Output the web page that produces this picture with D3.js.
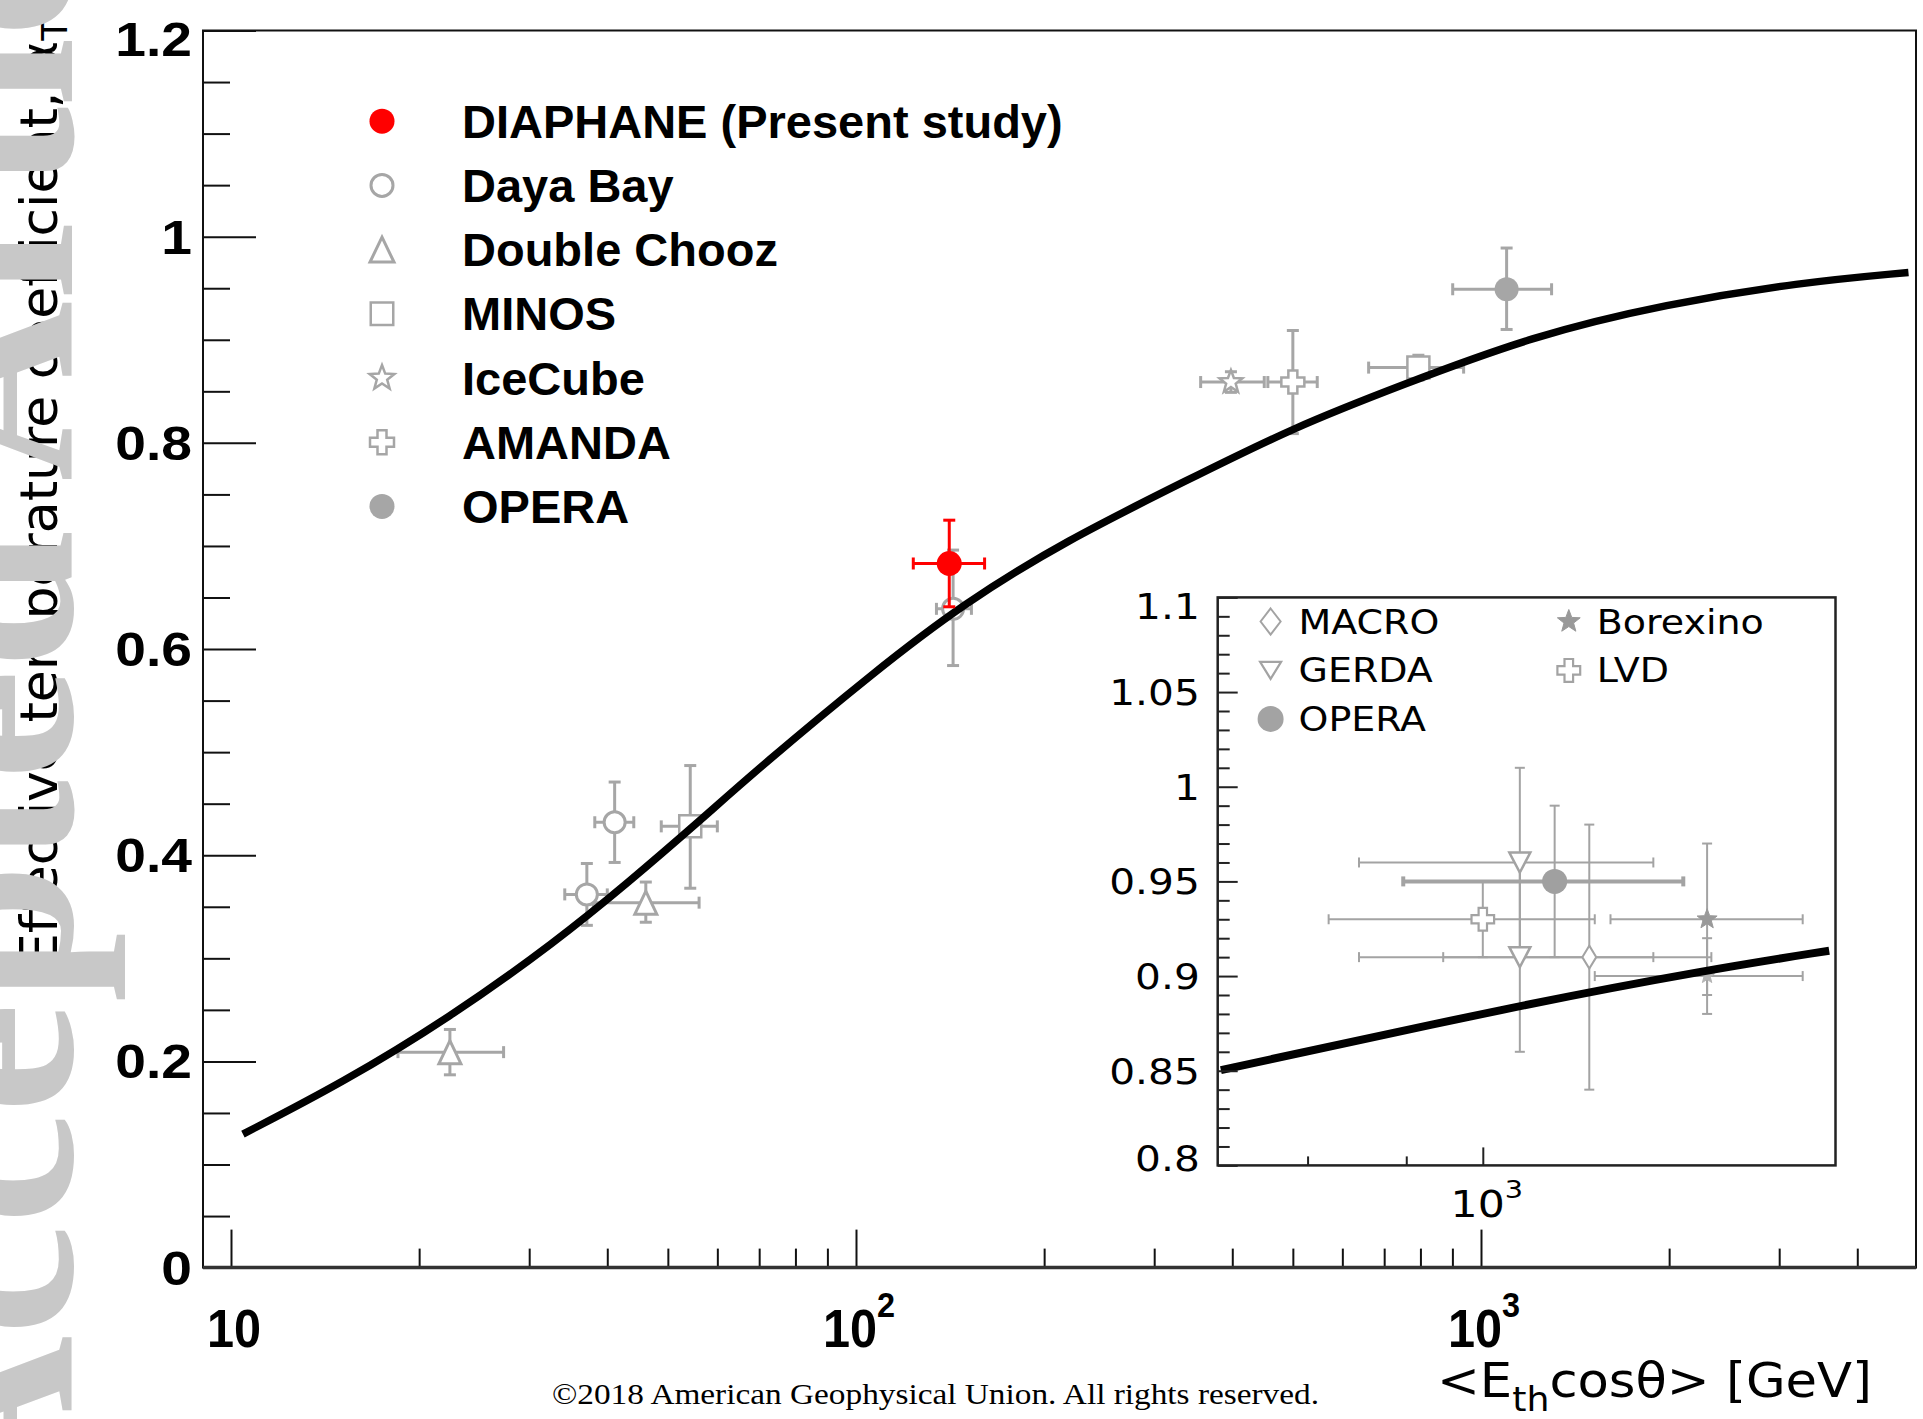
<!DOCTYPE html>
<html>
<head>
<meta charset="utf-8">
<script src="https://cdn.jsdelivr.net/npm/d3@7"></script>
<style>
html,body{margin:0;padding:0;background:#fff;}
svg{display:block;}
</style>
</head>
<body>
<svg id="chart" width="1923" height="1419"></svg>
<script>
// ================= DATA =================
// main axes
const mainXDomain = [9.02, 4966];
const mainYDomain = [0, 1.2];
const mainXMajor = [10, 100, 1000];
const mainXMajorExp = ["", "2", "3"];
const mainXMinor = [20,30,40,50,60,70,80,90,200,300,400,500,600,700,800,900,2000,3000,4000];
const mainYMajor = [0, 0.2, 0.4, 0.6, 0.8, 1, 1.2];
const mainYLabels = ["0", "0.2", "0.4", "0.6", "0.8", "1", "1.2"];
const mainYMinor = [0.05,0.1,0.15,0.25,0.3,0.35,0.45,0.5,0.55,0.65,0.7,0.75,0.85,0.9,0.95,1.05,1.1,1.15];

// theoretical curve
const curveE     = [10.45, 15.1, 22.4, 33.2, 43.3, 56.3, 70.2, 106.8, 148.4, 216.7, 337.8, 501.3, 742, 1213, 1982, 3238, 4830];
const curveAlpha = [0.1295, 0.1795, 0.2426, 0.3168, 0.374, 0.4337, 0.4855, 0.5776, 0.6439, 0.7052, 0.7634, 0.815, 0.8555, 0.904, 0.9347, 0.9556, 0.9653];

// points: [E, alpha, E_low, E_high, alpha_low, alpha_high]
const diaphanePts    = [[141, 0.683, 123.5, 160.6, 0.641, 0.725]];
const dayaBayPts     = [[41.1, 0.432, 38.2, 44.1, 0.393, 0.471], [37.1, 0.362, 34.2, 40.0, 0.332, 0.392], [143, 0.639, 134.5, 153, 0.584, 0.696]];
const doubleChoozPts = [[22.4, 0.209, 18.5, 27.3, 0.187, 0.231], [46.1, 0.354, 38.0, 56.1, 0.335, 0.374]];
const minosPts       = [[54.3, 0.428, 48.8, 60.0, 0.368, 0.487], [794, 0.873, 661, 938, 0.861, 0.885]];
const iceCubePts     = [[398, 0.859, 356, 450, 0.849, 0.869]];
const amandaPts      = [[500, 0.859, 456, 547, 0.809, 0.909]];
const operaPts       = [[1099, 0.949, 901, 1297, 0.910, 0.989]];

const legendNames   = ["DIAPHANE (Present study)", "Daya Bay", "Double Chooz", "MINOS", "IceCube", "AMANDA", "OPERA"];
const legendMarkers = ["dotRed", "circle", "triUp", "square", "starOpen", "plus", "dot"];

// inset
const insetXDomain = [461.7, 2796];
const insetYDomain = [0.8, 1.1];
const insetXMinor = [600, 800];
const insetXMajor = [1000];
const insetXMajorExp = ["3"];
const insetYMajor = [0.8, 0.85, 0.9, 0.95, 1, 1.05, 1.1];
const insetYLabels = ["0.8", "0.85", "0.9", "0.95", "1", "1.05", "1.1"];
const insetYMinor = [0.81,0.82,0.83,0.84,0.86,0.87,0.88,0.89,0.91,0.92,0.93,0.94,0.96,0.97,0.98,0.99,1.01,1.02,1.03,1.04,1.06,1.07,1.08,1.09];

const insetCurveE     = [466, 1114, 1923, 2745];
const insetCurveAlpha = [0.8503, 0.8847, 0.9032, 0.9134];

const macroPts    = [[1364, 0.91, 891, 1947, 0.84, 0.98]];
const gerdaPts    = [[1114, 0.96, 697, 1644, 0.91, 1.01], [1114, 0.91, 697, 1644, 0.86, 0.96]];
const operaInPts  = [[1233, 0.95, 793, 1794, 0.91, 0.99]];
const borexinoPts = [[1923, 0.93, 1451, 2541, 0.89, 0.97], [1923, 0.90, 1386, 2541, 0.88, 0.92]];
const lvdPts      = [[1000, 0.93, 638, 1386, 0.91, 0.95]];

const insetLegendNames   = ["MACRO", "GERDA", "OPERA", "Borexino", "LVD"];
const insetLegendMarkers = ["diamond", "triDown", "dot", "starFill", "plus"];

// ================= DRAWING =================
const GRAY = "#a6a6a6";
const svg = d3.select("#chart");
svg.append("rect").attr("width", 1923).attr("height", 1419).attr("fill", "#fff");

const P = {l: 203, r: 1916, t: 30.5, b: 1267.6};
const x = d3.scaleLog().domain(mainXDomain).range([P.l, P.r]);
const y = d3.scaleLinear().domain(mainYDomain).range([P.b, P.t]);

function ln(g, x1, y1, x2, y2, col, w) {
  g.append("line").attr("x1", x1).attr("y1", y1).attr("x2", x2).attr("y2", y2)
   .attr("stroke", col).attr("stroke-width", w);
}
function starPath(R, r) {
  const p = [];
  for (let i = 0; i < 10; i++) {
    const a = -Math.PI / 2 + i * Math.PI / 5;
    const rr = i % 2 ? r : R;
    p.push([rr * Math.cos(a), rr * Math.sin(a)]);
  }
  return "M" + p.map(d => d[0].toFixed(2) + "," + d[1].toFixed(2)).join("L") + "Z";
}
function plusPath(e, t) {
  return `M${-t},${-e}L${t},${-e}L${t},${-t}L${e},${-t}L${e},${t}L${t},${t}L${t},${e}L${-t},${e}L${-t},${t}L${-e},${t}L${-e},${-t}L${-t},${-t}Z`;
}
function drawMarker(g, type, cx, cy, s, col) {
  col = col || GRAY;
  const sw = s.sw || 3;
  if (type === "dotRed") {
    g.append("circle").attr("cx", cx).attr("cy", cy).attr("r", s.r).attr("fill", "#ff0000");
  } else if (type === "dot") {
    g.append("circle").attr("cx", cx).attr("cy", cy).attr("r", s.r).attr("fill", col);
  } else if (type === "circle") {
    g.append("circle").attr("cx", cx).attr("cy", cy).attr("r", s.r).attr("fill", "#fff").attr("stroke", col).attr("stroke-width", sw);
  } else {
    let d;
    if (type === "triUp") d = `M0,${-s.h/2}L${s.w/2},${s.h/2}L${-s.w/2},${s.h/2}Z`;
    else if (type === "triDown") d = `M0,${s.h/2}L${s.w/2},${-s.h/2}L${-s.w/2},${-s.h/2}Z`;
    else if (type === "square") d = `M${-s.w/2},${-s.w/2}h${s.w}v${s.w}h${-s.w}Z`;
    else if (type === "diamond") d = `M0,${-s.h/2}L${s.w/2},0L0,${s.h/2}L${-s.w/2},0Z`;
    else if (type === "starOpen" || type === "starFill") d = starPath(s.R, s.R * 0.42);
    else if (type === "plus") d = plusPath(s.e, s.t);
    const filled = type === "starFill";
    g.append("path").attr("d", d).attr("transform", `translate(${cx},${cy})`)
      .attr("fill", filled ? col : "#fff").attr("stroke", col).attr("stroke-width", filled ? 1 : sw)
      .attr("stroke-linejoin", "miter");
  }
}
function drawErrors(g, pts, xs, ys, col, ew, cap, ewx) {
  pts.forEach(p => {
    const [e, a, elo, ehi, alo, ahi] = p;
    const cx = xs(e), cy = ys(a), x0 = xs(elo), x1 = xs(ehi), y0 = ys(alo), y1 = ys(ahi);
    const wx = ewx || ew;
    ln(g, x0, cy, x1, cy, col, wx);
    ln(g, cx, y0, cx, y1, col, ew);
    ln(g, x0, cy - cap/2, x0, cy + cap/2, col, wx);
    ln(g, x1, cy - cap/2, x1, cy + cap/2, col, wx);
    ln(g, cx - cap/2, y0, cx + cap/2, y0, col, ew);
    ln(g, cx - cap/2, y1, cx + cap/2, y1, col, ew);
  });
}
function drawPts(g, pts, xs, ys, type, s, col) {
  pts.forEach(p => drawMarker(g, type, xs(p[0]), ys(p[1]), s, col));
}

// ---------- Y title + watermark ----------
const yTitle = svg.append("text")
  .attr("transform", "translate(57,966) rotate(-90)")
  .style("font-family", "'DejaVu Sans', sans-serif").style("font-size", "52px").attr("fill", "#000");
yTitle.append("tspan").text("Effective temperature coefficient, α");
yTitle.append("tspan").attr("dy", 10).style("font-size", "36px").text("T");

svg.append("text")
  .attr("transform", "translate(72,1516) rotate(-90)")
  .style("font-family", "'Liberation Serif', serif").style("font-weight", "bold").style("font-size", "250px")
  .attr("fill", "#c8c8c8").text("Accepted Article");

// ---------- main frame & ticks ----------
const gAx = svg.append("g");
function ticks(axisGen, tx, ty) {
  const g = gAx.append("g").attr("transform", `translate(${tx},${ty})`).call(axisGen);
  g.select(".domain").remove();
  g.selectAll("line").attr("stroke", "#111").attr("stroke-width", 2);
  g.selectAll("text").remove();
}
ticks(d3.axisRight(y).tickValues(mainYMinor).tickSize(27).tickFormat(""), P.l, 0);
ticks(d3.axisRight(y).tickValues(mainYMajor).tickSize(53).tickFormat(""), P.l, 0);
ticks(d3.axisTop(x).tickValues(mainXMinor).tickSize(19).tickFormat(""), 0, P.b);
ticks(d3.axisTop(x).tickValues(mainXMajor).tickSize(38).tickFormat(""), 0, P.b);

gAx.append("rect").attr("x", P.l).attr("y", P.t).attr("width", P.r - P.l).attr("height", P.b - P.t)
  .attr("fill", "none").attr("stroke", "#111").attr("stroke-width", 2);
ln(gAx, P.l, P.b, P.r, P.b, "#333", 3.5);

// y labels
mainYMajor.forEach((v, i) => {
  const ty = y(v) + 17 + (v === 1.2 ? 8 : 0);
  svg.append("text").attr("transform", `translate(192,${ty}) scale(1.15,1)`)
    .attr("text-anchor", "end")
    .style("font-family", "'Liberation Sans', Arial, sans-serif").style("font-weight", "bold").style("font-size", "48px")
    .text(mainYLabels[i]);
});
// x labels
mainXMajor.forEach((v, i) => {
  const t = svg.append("text").attr("transform", `translate(${x(v) + 3},1346.7) scale(0.9,1)`)
    .attr("text-anchor", "middle")
    .style("font-family", "'Liberation Sans', Arial, sans-serif").style("font-weight", "bold").style("font-size", "54px");
  t.append("tspan").text("10");
  if (mainXMajorExp[i]) t.append("tspan").attr("dy", -30).style("font-size", "36px").text(mainXMajorExp[i]);
});

// ---------- main data ----------
const gData = svg.append("g");
drawErrors(gData, dayaBayPts, x, y, GRAY, 3, 12);
drawErrors(gData, doubleChoozPts, x, y, GRAY, 3, 12);
drawErrors(gData, minosPts, x, y, GRAY, 3, 12);
drawErrors(gData, iceCubePts, x, y, GRAY, 3, 12);
drawErrors(gData, amandaPts, x, y, GRAY, 3, 12);
drawErrors(gData, operaPts, x, y, GRAY, 3, 12);
drawPts(gData, dayaBayPts, x, y, "circle", {r: 10.5, sw: 3});
drawPts(gData, doubleChoozPts, x, y, "triUp", {w: 22, h: 23, sw: 3});
drawPts(gData, minosPts, x, y, "square", {w: 22, sw: 2.5});
drawPts(gData, iceCubePts, x, y, "starOpen", {R: 12, sw: 2.5});
drawPts(gData, amandaPts, x, y, "plus", {e: 11.5, t: 4.5, sw: 2.5});
drawPts(gData, operaPts, x, y, "dot", {r: 12});

const lineGen = d3.line().x(d => x(d[0])).y(d => y(d[1])).curve(d3.curveBasis);
svg.append("path").datum(curveE.map((e, i) => [e, curveAlpha[i]]))
  .attr("d", lineGen).attr("fill", "none").attr("stroke", "#000").attr("stroke-width", 7.5);

drawErrors(svg, diaphanePts, x, y, "#ff0000", 3, 12);
drawPts(svg, diaphanePts, x, y, "dotRed", {r: 12.5});

// ---------- main legend ----------
const legSizes = [{r: 12.5}, {r: 11, sw: 3}, {w: 24, h: 25, sw: 3}, {w: 22.5, sw: 2.5}, {R: 13, sw: 2.5}, {e: 12, t: 4.5, sw: 2.5}, {r: 12.5}];
legendNames.forEach((nm, i) => {
  const cy = 121.2 + i * 64.2;
  drawMarker(svg, legendMarkers[i], 382, cy, legSizes[i]);
  svg.append("text").attr("x", 462).attr("y", cy + 16.5)
    .style("font-family", "'Liberation Sans', Arial, sans-serif").style("font-weight", "bold").style("font-size", "47px")
    .text(nm);
});

// ---------- inset ----------
const I = {l: 1217.7, r: 1835.5, t: 597.4, b: 1165.4};
const xi = d3.scaleLog().domain(insetXDomain).range([I.l, I.r]);
const yi = d3.scaleLinear().domain(insetYDomain).range([I.b, I.t]);
const gi = svg.append("g");
gi.append("rect").attr("x", I.l).attr("y", I.t).attr("width", I.r - I.l).attr("height", I.b - I.t).attr("fill", "#fff");

const IG = "#a3a3a3";
drawErrors(gi, macroPts, xi, yi, IG, 2, 10);
drawErrors(gi, gerdaPts, xi, yi, IG, 2, 10);
drawErrors(gi, lvdPts, xi, yi, IG, 2, 10);
drawErrors(gi, borexinoPts, xi, yi, IG, 2, 10);
drawErrors(gi, operaInPts, xi, yi, IG, 2, 10, 4);
drawPts(gi, macroPts, xi, yi, "diamond", {w: 14, h: 23, sw: 2}, IG);
drawPts(gi, gerdaPts, xi, yi, "triDown", {w: 21, h: 20, sw: 2.5}, IG);
drawPts(gi, lvdPts, xi, yi, "plus", {e: 11.3, t: 4.2, sw: 2.2}, IG);
drawMarker(gi, "starFill", xi(borexinoPts[0][0]), yi(borexinoPts[0][1]), {R: 10.5}, "#999");
drawMarker(gi, "starFill", xi(borexinoPts[1][0]), yi(borexinoPts[1][1]), {R: 8}, "#b5b5b5");
drawPts(gi, operaInPts, xi, yi, "dot", {r: 12.5}, "#a0a0a0");

const lineGenI = d3.line().x(d => xi(d[0])).y(d => yi(d[1])).curve(d3.curveBasis);
gi.append("path").datum(insetCurveE.map((e, i) => [e, insetCurveAlpha[i]]))
  .attr("d", lineGenI).attr("fill", "none").attr("stroke", "#000").attr("stroke-width", 8);

// inset legend
const insLegPos = [[1270.6, 621.5], [1270.6, 670.4], [1270.6, 718.9], [1568.8, 621.5], [1568.8, 670.4]];
const insLegSizes = [{w: 20, h: 26, sw: 2}, {w: 21, h: 17, sw: 2.2}, {r: 13}, {R: 12}, {e: 11.4, t: 4.3, sw: 2.2}];
insetLegendNames.forEach((nm, i) => {
  const [mx, my] = insLegPos[i];
  drawMarker(gi, insetLegendMarkers[i], mx, my, insLegSizes[i], i === 3 ? "#999" : IG);
  gi.append("text").attr("transform", `translate(${mx + 28},${my + 12}) scale(1.15,1)`)
    .style("font-family", "'DejaVu Sans', sans-serif").style("font-size", "33px").text(nm);
});

// inset frame + ticks
function iticks(axisGen, tx, ty) {
  const g = gi.append("g").attr("transform", `translate(${tx},${ty})`).call(axisGen);
  g.select(".domain").remove();
  g.selectAll("line").attr("stroke", "#222").attr("stroke-width", 2);
  g.selectAll("text").remove();
}
iticks(d3.axisRight(yi).tickValues(insetYMinor).tickSize(12).tickFormat(""), I.l, 0);
iticks(d3.axisRight(yi).tickValues(insetYMajor).tickSize(20).tickFormat(""), I.l, 0);
iticks(d3.axisTop(xi).tickValues(insetXMinor).tickSize(9).tickFormat(""), 0, I.b);
iticks(d3.axisTop(xi).tickValues(insetXMajor).tickSize(18).tickFormat(""), 0, I.b);
gi.append("rect").attr("x", I.l).attr("y", I.t).attr("width", I.r - I.l).attr("height", I.b - I.t)
  .attr("fill", "none").attr("stroke", "#222").attr("stroke-width", 2.5);

insetYMajor.forEach((v, i) => {
  let ty = yi(v) + 13;
  if (v === 1.1) ty += 9;
  if (v === 0.8) ty -= 7;
  gi.append("text").attr("transform", `translate(1199.8,${ty}) scale(1.13,1)`)
    .attr("text-anchor", "end")
    .style("font-family", "'DejaVu Sans', sans-serif").style("font-size", "36px").text(insetYLabels[i]);
});
insetXMajor.forEach((v, i) => {
  const t = gi.append("text").attr("transform", `translate(${xi(v) + 4},1217.3) scale(1.15,1)`)
    .attr("text-anchor", "middle")
    .style("font-family", "'DejaVu Sans', sans-serif").style("font-size", "37px");
  t.append("tspan").text("10");
  t.append("tspan").attr("dy", -19).style("font-size", "25px").text(insetXMajorExp[i]);
});

// ---------- x title & copyright ----------
const xt = svg.append("text").attr("x", 1437).attr("y", 1397)
  .attr("textLength", 435).attr("lengthAdjust", "spacingAndGlyphs")
  .style("font-family", "'DejaVu Sans', sans-serif").style("font-size", "48px");
xt.append("tspan").text("<E");
xt.append("tspan").attr("dy", 14).style("font-size", "34px").text("th");
xt.append("tspan").attr("dy", -14).text("cosθ> [GeV]");

svg.append("text").attr("x", 552).attr("y", 1404)
  .attr("textLength", 767).attr("lengthAdjust", "spacingAndGlyphs")
  .style("font-family", "'Liberation Serif', serif").style("font-size", "30px")
  .text("©2018 American Geophysical Union. All rights reserved.");
</script>
</body>
</html>
